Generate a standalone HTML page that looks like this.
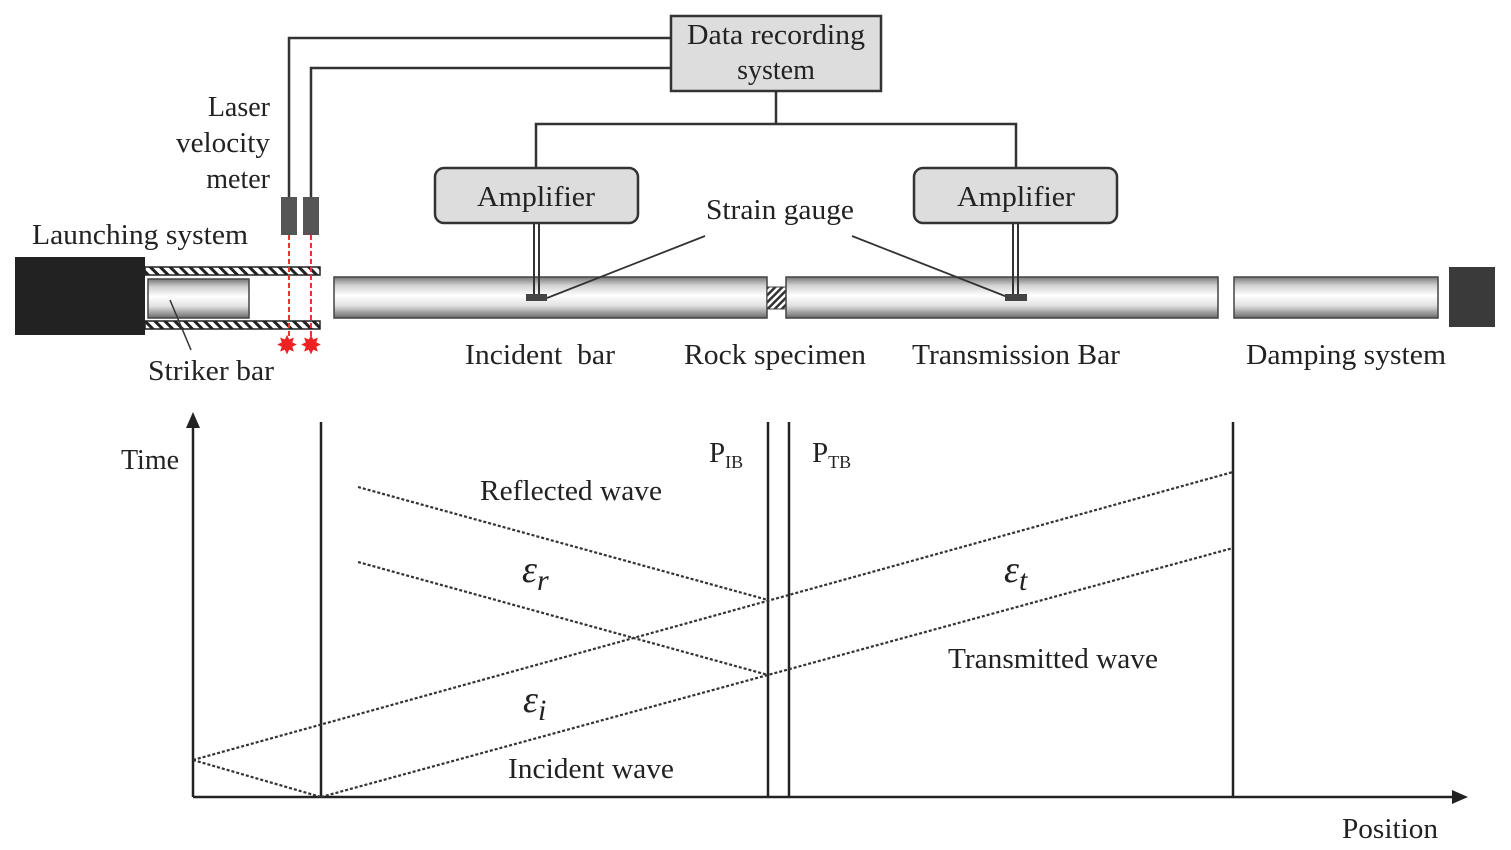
<!DOCTYPE html>
<html><head><meta charset="utf-8"><style>
html,body{margin:0;padding:0;background:#fff;}
svg{display:block;}
text{font-family:"Liberation Serif",serif;fill:#222;}
</style></head><body>
<svg width="1511" height="850" viewBox="0 0 1511 850" xmlns="http://www.w3.org/2000/svg">
<defs>
<linearGradient id="bar" x1="0" y1="0" x2="0" y2="1">
<stop offset="0" stop-color="#777"/><stop offset="0.2" stop-color="#d0d0d0"/><stop offset="0.45" stop-color="#fff"/><stop offset="0.7" stop-color="#e0e0e0"/><stop offset="1" stop-color="#6a6a6a"/>
</linearGradient>
<pattern id="hatch" width="5" height="5" patternUnits="userSpaceOnUse" patternTransform="rotate(45)">
<rect width="5" height="5" fill="#fff"/><rect width="2.5" height="5" fill="#333"/>
</pattern>
<pattern id="hatch2" width="7" height="7" patternUnits="userSpaceOnUse" patternTransform="rotate(-45)">
<rect width="7" height="7" fill="#fff"/><rect width="3" height="7" fill="#222"/>
</pattern>
</defs>
<g stroke="#333" stroke-width="2.5" fill="none">
<polyline points="670,38 289,38 289,197"/>
<polyline points="670,68 311,68 311,197"/>
<line x1="776" y1="91" x2="776" y2="124"/>
<polyline points="536,168 536,124 1016,124 1016,168"/>
</g>
<rect x="671" y="16" width="210" height="75" fill="#ddd" stroke="#333" stroke-width="2.5"/>
<text x="776" y="44" font-size="28" text-anchor="middle" textLength="178" lengthAdjust="spacingAndGlyphs">Data recording</text>
<text x="776" y="79" font-size="28" text-anchor="middle">system</text>
<rect x="435" y="168" width="203" height="55" rx="9" fill="#ddd" stroke="#333" stroke-width="2.5"/>
<text x="536" y="206" font-size="29" text-anchor="middle" textLength="118" lengthAdjust="spacingAndGlyphs">Amplifier</text>
<rect x="914" y="168" width="203" height="55" rx="9" fill="#ddd" stroke="#333" stroke-width="2.5"/>
<text x="1016" y="206" font-size="29" text-anchor="middle" textLength="118" lengthAdjust="spacingAndGlyphs">Amplifier</text>
<text x="270" y="116" font-size="28" text-anchor="end">Laser</text>
<text x="270" y="152" font-size="28" text-anchor="end" textLength="94" lengthAdjust="spacingAndGlyphs">velocity</text>
<text x="270" y="188" font-size="28" text-anchor="end">meter</text>
<text x="140" y="244" font-size="28" text-anchor="middle" textLength="216" lengthAdjust="spacingAndGlyphs">Launching system</text>
<rect x="15" y="257" width="130" height="78" fill="#222"/>
<rect x="145" y="267" width="175" height="8" fill="url(#hatch2)" stroke="#222" stroke-width="1.5"/>
<rect x="145" y="321" width="175" height="8" fill="url(#hatch2)" stroke="#222" stroke-width="1.5"/>
<rect x="148" y="279" width="101" height="39" fill="url(#bar)" stroke="#444" stroke-width="1.5"/>
<line x1="170" y1="300" x2="191" y2="350" stroke="#333" stroke-width="1.5"/>
<text x="211" y="380" font-size="28" text-anchor="middle" textLength="126" lengthAdjust="spacingAndGlyphs">Striker bar</text>
<rect x="281" y="197" width="16" height="38" fill="#555"/>
<rect x="303" y="197" width="16" height="38" fill="#555"/>
<g stroke="#e33" stroke-width="2" stroke-dasharray="5,3">
<line x1="289" y1="235" x2="289" y2="338"/><line x1="311" y1="235" x2="311" y2="338"/>
</g>
<g font-size="26" font-family="DejaVu Sans,sans-serif">
<text x="287" y="354" text-anchor="middle" style="fill:#e22">✸</text>
<text x="311" y="354" text-anchor="middle" style="fill:#e22">✸</text>
</g>
<rect x="334" y="277" width="433" height="41" fill="url(#bar)" stroke="#444" stroke-width="1.5"/>
<rect x="767" y="287" width="19" height="22" fill="url(#hatch)" stroke="#444" stroke-width="1"/>
<rect x="786" y="277" width="432" height="41" fill="url(#bar)" stroke="#444" stroke-width="1.5"/>
<rect x="1234" y="277" width="204" height="41" fill="url(#bar)" stroke="#444" stroke-width="1.5"/>
<rect x="1449" y="267" width="46" height="60" fill="#3a3a3a"/>
<g stroke="#333" stroke-width="2">
<line x1="534" y1="223" x2="534" y2="295"/><line x1="539" y1="223" x2="539" y2="295"/>
<line x1="1013" y1="223" x2="1013" y2="295"/><line x1="1018" y1="223" x2="1018" y2="295"/>
<line x1="705" y1="236" x2="547" y2="298" stroke-width="1.8"/>
<line x1="852" y1="236" x2="1010" y2="298" stroke-width="1.8"/>
</g>
<rect x="526" y="294" width="21" height="7" fill="#444"/>
<rect x="1005" y="294" width="22" height="7" fill="#444"/>
<text x="780" y="219" font-size="28" text-anchor="middle" textLength="148" lengthAdjust="spacingAndGlyphs">Strain gauge</text>
<text x="540" y="364" font-size="28" text-anchor="middle" textLength="150" lengthAdjust="spacingAndGlyphs">Incident&#160; bar</text>
<text x="775" y="364" font-size="28" text-anchor="middle" textLength="182" lengthAdjust="spacingAndGlyphs">Rock specimen</text>
<text x="1016" y="364" font-size="28" text-anchor="middle" textLength="208" lengthAdjust="spacingAndGlyphs">Transmission Bar</text>
<text x="1346" y="364" font-size="28" text-anchor="middle" textLength="200" lengthAdjust="spacingAndGlyphs">Damping system</text>
<g stroke="#222" stroke-width="2.5" fill="none">
<line x1="193" y1="797" x2="193" y2="425"/>
<line x1="193" y1="797" x2="1455" y2="797"/>
<line x1="321" y1="422" x2="321" y2="797"/>
<line x1="768" y1="422" x2="768" y2="797"/>
<line x1="789" y1="422" x2="789" y2="797"/>
<line x1="1233" y1="422" x2="1233" y2="797"/>
</g>
<polygon points="193,412 186,428 200,428" fill="#222"/>
<polygon points="1468,797 1452,790 1452,804" fill="#222"/>
<g stroke="#333" stroke-width="2.2" stroke-dasharray="3,2" fill="none">
<line x1="193" y1="760" x2="321" y2="797"/>
<line x1="193" y1="760" x2="1233" y2="472"/>
<line x1="321" y1="797" x2="1233" y2="548"/>
<line x1="358" y1="487" x2="768" y2="600"/>
<line x1="358" y1="562" x2="768" y2="675"/>
</g>
<text x="150" y="469" font-size="28" text-anchor="middle">Time</text>
<text x="1390" y="838" font-size="28" text-anchor="middle" textLength="96" lengthAdjust="spacingAndGlyphs">Position</text>
<text x="709" y="462" font-size="29">P<tspan font-size="18" dy="6">IB</tspan></text>
<text x="812" y="462" font-size="29">P<tspan font-size="18" dy="6">TB</tspan></text>
<text x="571" y="500" font-size="28" text-anchor="middle" textLength="182" lengthAdjust="spacingAndGlyphs">Reflected wave</text>
<text x="1053" y="668" font-size="28" text-anchor="middle" textLength="210" lengthAdjust="spacingAndGlyphs">Transmitted wave</text>
<text x="591" y="778" font-size="28" text-anchor="middle" textLength="166" lengthAdjust="spacingAndGlyphs">Incident wave</text>
<text x="522" y="582" font-size="38" font-style="italic">ε<tspan font-size="30" dy="8">r</tspan></text>
<text x="1004" y="582" font-size="38" font-style="italic">ε<tspan font-size="30" dy="8">t</tspan></text>
<text x="523" y="712" font-size="38" font-style="italic">ε<tspan font-size="30" dy="8">i</tspan></text>
</svg>
</body></html>
